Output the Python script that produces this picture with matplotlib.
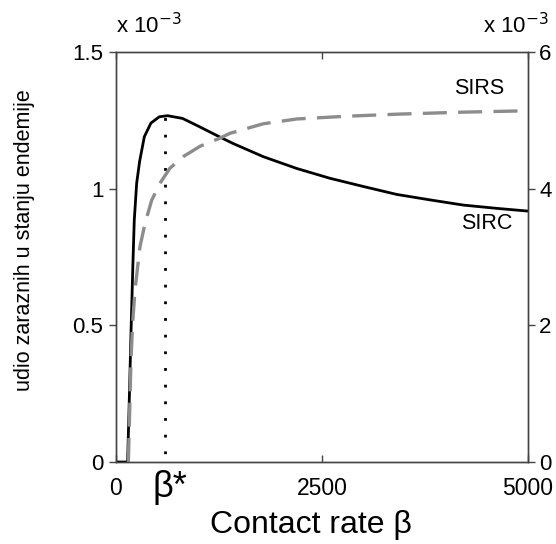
import matplotlib
matplotlib.use("Agg")
import matplotlib.pyplot as plt

plt.rcParams['font.family'] = ['Liberation Sans', 'DejaVu Sans']

# SIRC (left axis)
sirc_beta = [0, 141, 160, 182, 205, 222, 251, 287, 344, 424, 526, 626, 808, 1011,
             1214, 1416, 1788, 2193, 2597, 3002, 3406, 3811, 4215, 4620, 5000]
sirc_val = [0, 0, 0.21, 0.47, 0.72, 0.885, 1.02, 1.10, 1.19, 1.24, 1.263, 1.267,
            1.257, 1.227, 1.196, 1.166, 1.117, 1.074, 1.038, 1.008, 0.979, 0.959,
            0.940, 0.928, 0.918]

# SIRS (right axis, x 10^-3)
sirs_beta = [150, 182, 202, 231, 291, 352, 433, 534, 655, 817, 1019, 1262, 1383,
             1788, 2193, 2800, 3406, 4215, 5000]
sirs_val = [0, 1.49, 2.03, 2.52, 3.15, 3.49, 3.83, 4.08, 4.30, 4.47, 4.62, 4.74,
            4.81, 4.95, 5.02, 5.06, 5.09, 5.12, 5.14]

beta_star = 600
peak_val = 1.267

xticks = [0, 2500, 5000]
xticklabels = ['0', '2500', '5000']
yticks_left = [0, 0.5, 1, 1.5]
yticklabels_left = ['0', '0.5', '1', '1.5']
yticks_right = [0, 2, 4, 6]

fig = plt.figure(figsize=(5.56, 5.44), dpi=100)
ax = fig.add_axes([0.2086, 0.1507, 0.741, 0.7537])
ax2 = ax.twinx()

spine_col = '#444444'
for a in (ax, ax2):
    for s in a.spines.values():
        s.set_color(spine_col)
        s.set_linewidth(1.0)

ax.plot(sirc_beta, sirc_val, color='black', lw=2.0, solid_capstyle='butt',
        solid_joinstyle='round', zorder=3)
ax.plot([beta_star, beta_star], [0, peak_val], color='black', lw=2.0,
        linestyle=(3, (1.0, 5.0)), dash_capstyle='butt', zorder=2)
ax2.plot(sirs_beta, sirs_val, color='#8c8c8c', lw=2.4, linestyle=(0, (7.2, 3.4)),
         solid_joinstyle='round', zorder=2)

ax.set_xlim(0, 5000)
ax.set_ylim(0, 1.5)
ax2.set_ylim(0, 6)

ax.set_xticks(xticks)
ax.set_xticklabels(xticklabels)
ax.set_yticks(yticks_left)
ax.set_yticklabels(yticklabels_left)
ax2.set_yticks(yticks_right)
ax2.set_yticklabels([str(v) for v in yticks_right])

ax.tick_params(axis='x', direction='in', top=True, length=5, width=1, color=spine_col,
               labelsize=16.5, pad=11)
ax.tick_params(axis='y', direction='out', length=5, width=1, color=spine_col,
               labelsize=16, pad=4)
ax2.tick_params(axis='y', direction='out', length=5, width=1, color=spine_col,
                labelsize=16, pad=3)

ax.set_ylabel('udio zaraznih u stanju endemije', fontsize=15.5)
ax.yaxis.set_label_coords(-0.221, 0.541)
ax.yaxis.label.set_va('center')
ax.set_xlabel('Contact rate β', fontsize=23)
ax.xaxis.set_label_coords(0.473, -0.173)
ax.xaxis.label.set_va('baseline')

ax.text(449, -0.128, 'β*', ha='left', va='baseline', fontsize=26)

ax.text(0.0, 1.033, 'x 10$^{-3}$', transform=ax.transAxes, ha='left', va='bottom',
        fontsize=16)
ax.text(1.05, 1.033, 'x 10$^{-3}$', transform=ax.transAxes, ha='right', va='bottom',
        fontsize=16)

ax.text(4405, 1.365, 'SIRS', ha='center', va='center', fontsize=15.5)
ax.text(4500, 0.871, 'SIRC', ha='center', va='center', fontsize=15.5)

fig.savefig('out.png', dpi=100)
